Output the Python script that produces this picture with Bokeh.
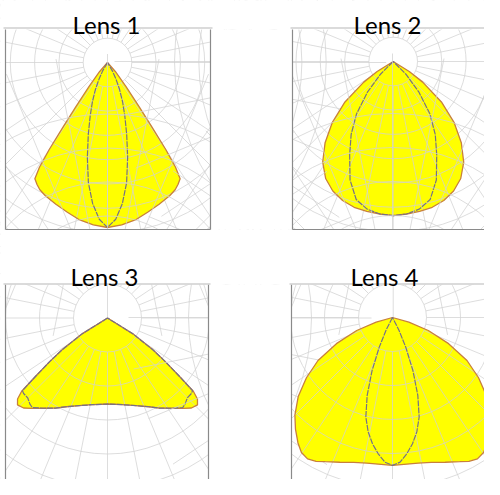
import numpy as np
from bokeh.plotting import figure
from bokeh.models import Range1d
from bokeh.core.properties import value
from bokeh.embed import file_html
from bokeh.resources import INLINE

# ---------------- data (cd/klm) ----------------
titles = ["Lens 1", "Lens 2", "Lens 3", "Lens 4"]

lens1_c0_gamma = [0, 5, 10, 15, 20, 25, 28, 30, 32, 33, 33.8, 34.5, 35.5, 37.5, 41, 46]
lens1_c0_cd = [679, 671, 658, 638, 621, 605, 593, 580, 564, 514, 432, 329, 226, 123, 49, 0]
lens1_c90_gamma = [0, 3, 6, 9, 12, 15, 18, 21, 24, 27, 30, 35]
lens1_c90_cd = [679, 646, 584, 502, 399, 305, 230, 173, 123, 78, 41, 0]

lens2_c0_gamma = [0, 5, 10, 15, 20, 25, 30, 35, 40, 45, 50, 55, 58, 62]
lens2_c0_cd = [634, 630, 626, 621, 609, 588, 556, 506, 436, 354, 259, 148, 78, 0]
lens2_c90_gamma = [0, 5, 10, 15, 20, 25, 30, 35, 40, 45, 50]
lens2_c90_cd = [634, 630, 617, 588, 519, 424, 346, 263, 165, 74, 0]

lens3_c0_gamma = [0, 10, 18, 25, 30, 35, 40, 43, 46, 48, 49.5, 51, 53, 55, 58, 62]
lens3_c0_cd = [253, 259, 271, 288, 306, 324, 347, 362, 368, 356, 332, 271, 212, 162, 88, 0]
lens3_c90_gamma = [0, 10, 18, 25, 30, 35, 40, 42, 45, 48, 49.5, 51, 53, 55, 58, 62]
lens3_c90_cd = [253, 259, 271, 288, 306, 324, 344, 341, 332, 332, 329, 271, 212, 162, 88, 0]

lens4_c0_gamma = [0, 10, 15, 20, 25, 28, 31, 34, 37, 41, 45, 50, 55, 60, 65, 70, 74, 77]
lens4_c0_cd = [435, 435, 441, 453, 468, 479, 485, 479, 462, 435, 406, 362, 309, 253, 182, 112, 50, 0]
lens4_c90_gamma = [0, 3, 6, 9, 12, 15, 18, 21, 24, 27, 30]
lens4_c90_cd = [435, 426, 403, 376, 344, 303, 241, 168, 97, 41, 0]

ring_step = 100          # cd/klm between grid rings
ring_counts = [9, 9, 6, 6]
radial_count = 32        # radial grid lines around the full circle

# ---------------- layout (page pixels) ----------------
panels = [
    dict(cx=115.0, cy=70.0, k=0.243, box=(13, 218, 37, 237), top=(11, 220, 35.5), tx=114, ty=31.5),
    dict(cx=400.7, cy=69.0, k=0.243, box=(300, 520, 37, 237), top=(298, 520, 35.5), tx=395, ty=31.5),
    dict(cx=115.0, cy=325.5, k=0.34, box=(13, 216, 292, 520), top=(11, 218, 291.5), tx=112, ty=283.5),
    dict(cx=400.0, cy=325.0, k=0.34, box=(299, 520, 292, 520), top=(297, 520, 291.5), tx=392, ty=283.5),
]
curves = [
    (lens1_c0_gamma, lens1_c0_cd, lens1_c90_gamma, lens1_c90_cd),
    (lens2_c0_gamma, lens2_c0_cd, lens2_c90_gamma, lens2_c90_cd),
    (lens3_c0_gamma, lens3_c0_cd, lens3_c90_gamma, lens3_c90_cd),
    (lens4_c0_gamma, lens4_c0_cd, lens4_c90_gamma, lens4_c90_cd),
]

W, H = 484, 479
p = figure(width=W, height=H, x_range=Range1d(8, 8 + W), y_range=Range1d(8 + H, 8),
           min_border=0, toolbar_location=None, output_backend="svg",
           x_axis_location=None, y_axis_location=None)
p.grid.visible = False
p.outline_line_color = None
p.background_fill_color = "white"


def closed_curve(cx, cy, k, gamma, cd):
    g = np.radians(np.asarray(gamma, dtype=float))
    r = k * np.asarray(cd, dtype=float)
    xl, yl = cx - r * np.sin(g), cy + r * np.cos(g)
    xr, yr = cx + r * np.sin(g), cy + r * np.cos(g)
    xs = np.concatenate([xl[::-1], xr[1:]])
    ys = np.concatenate([yl[::-1], yr[1:]])
    return xs, ys


GRID = "#d2d2d2"
GA = 0.75
for pan, (g0, c0, g90, c90), nring in zip(panels, curves, ring_counts):
    cx, cy, k = pan["cx"], pan["cy"], pan["k"]
    xs0, ys0 = closed_curve(cx, cy, k, g0, c0)
    xs9, ys9 = closed_curve(cx, cy, k, g90, c90)
    # fill
    p.patch(xs0, ys0, fill_color="#ffff00", line_color=None)
    # grid rings
    rings = [k * ring_step * i for i in range(1, nring + 1)]
    p.circle(x=[cx] * len(rings), y=[cy] * len(rings), radius=rings,
             fill_color=None, line_color=GRID, line_alpha=GA, line_width=1)
    # radial lines, starting on the first ring
    ang = np.linspace(0, 2 * np.pi, radial_count, endpoint=False)
    r0, r1 = rings[0], rings[-1] + 60
    p.segment(x0=cx + r0 * np.sin(ang), y0=cy + r0 * np.cos(ang),
              x1=cx + r1 * np.sin(ang), y1=cy + r1 * np.cos(ang),
              line_color=GRID, line_alpha=GA, line_width=1)
    # curve outlines
    p.line(xs0, ys0, line_color="#c8803c", line_width=1.3)
    p.line(xs9, ys9, line_color="#74708a", line_width=1.2, line_dash="6 1")

# white masks outside the four frames
masks = [
    (-100, 600, -100, 37), (-100, 600, 237, 292),
    (-100, 13, 37, 237), (218, 300, 37, 237),
    (-100, 13, 292, 600), (216, 299, 292, 600),
]
p.quad(left=[m[0] for m in masks], right=[m[1] for m in masks],
       top=[m[2] for m in masks], bottom=[m[3] for m in masks],
       fill_color="white", line_color=None)

for pan, title in zip(panels, titles):
    l, r, t, b = pan["box"]
    # frame: left, right, bottom edges
    p.segment(x0=[l, r, l], y0=[t, t, b], x1=[l, r, r], y1=[b, b, b],
              line_color="#8a8a8a", line_width=1.2)
    tl, tr, ty = pan["top"]
    p.segment(x0=[tl], y0=[ty], x1=[tr], y1=[ty], line_color="#cfcfcf", line_width=1.5)
    p.text(x=[pan["tx"]], y=[pan["ty"]], text=[title], text_align="center",
           text_baseline="alphabetic", text_font=value("Lato"),
           text_font_size="24px", text_color="black")

open("out.html", "w").write(file_html(p, INLINE))
